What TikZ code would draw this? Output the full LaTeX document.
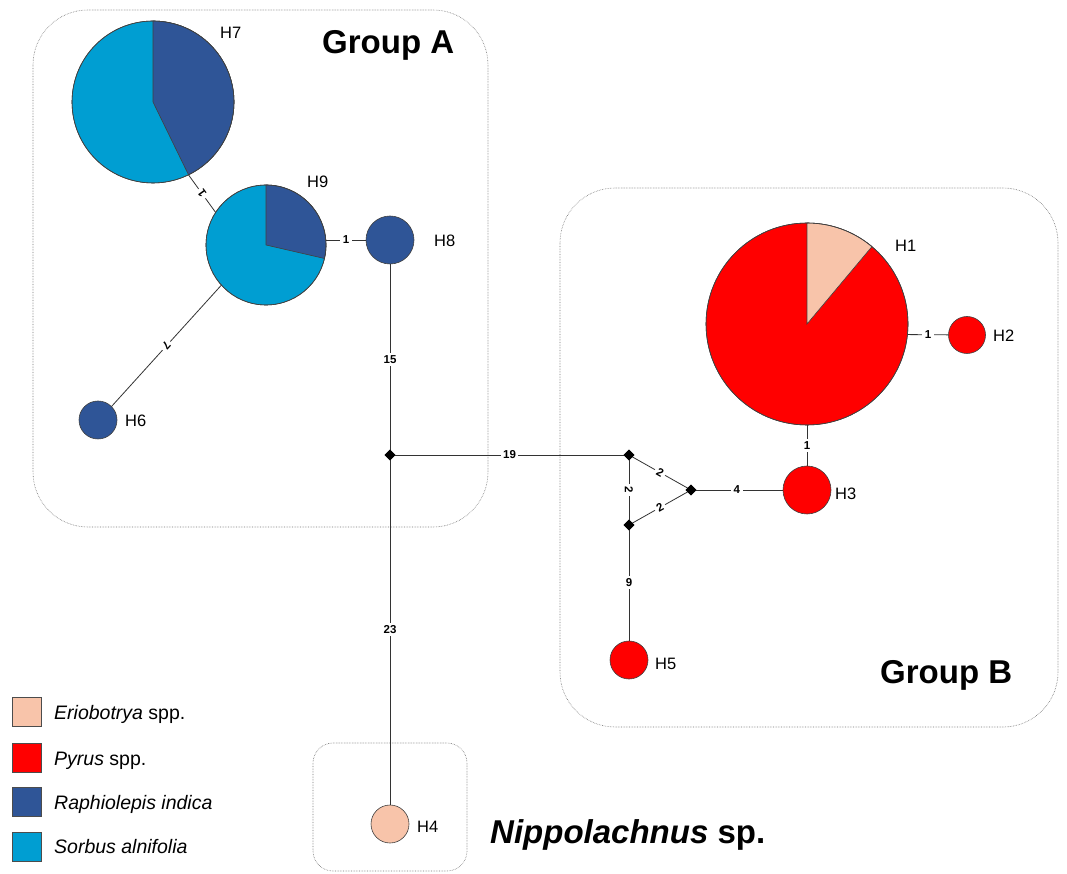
\documentclass[tikz,border=0pt]{standalone}
\usepackage{fontspec}
\setmainfont{Liberation Sans}
\usetikzlibrary{shapes.geometric}
\definecolor{dblue}{RGB}{47,85,151}
\definecolor{lblue}{RGB}{0,158,210}
\definecolor{pred}{RGB}{255,0,0}
\definecolor{ppink}{RGB}{248,196,170}
\tikzset{
  hap/.style={circle, draw=black!75, line width=0.6pt, inner sep=0pt},
  pieline/.style={draw=black!75, line width=0.6pt},
  med/.style={diamond, fill=black, inner sep=0pt, minimum width=11pt, minimum height=11pt},
  edge/.style={draw=black!80, line width=0.8pt},
  elab/.style={fill=white, inner sep=2.5pt, font=\fontsize{11.5}{13}\selectfont\bfseries},
  hlab/.style={anchor=base west, inner sep=0pt, font=\fontsize{16.5}{19}\selectfont},
  grpbox/.style={draw=black!55, densely dotted, line width=0.6pt},
  grplab/.style={anchor=base west, inner sep=0pt, font=\fontsize{33}{39}\selectfont\bfseries},
  legbox/.style={draw=black!70, line width=0.8pt, minimum size=29pt, inner sep=0pt},
  legtext/.style={anchor=base west, inner sep=0pt, font=\fontsize{19.5}{23}\selectfont}
}
\begin{document}
\begin{tikzpicture}[x=1pt, y=1pt]
\useasboundingbox (0,0) rectangle (1067,873);
% group boxes
\draw[grpbox, rounded corners=55pt] (33,863) rectangle (488,346);
\draw[grpbox, rounded corners=55pt] (560,685) rectangle (1058,146);
\draw[grpbox, rounded corners=20pt] (313,130) rectangle (467,2);
% haplotypes
\node[hap, fill=lblue, minimum size=162pt] (H7) at (153,771) {};
\filldraw[pieline, fill=dblue] (H7.center) -- ++(90:81pt) arc[start angle=90, end angle=-64, radius=81pt] -- cycle;
\node[hap, minimum size=162pt] at (153,771) {};
\node[hap, fill=lblue, minimum size=120pt] (H9) at (266,628) {};
\filldraw[pieline, fill=dblue] (H9.center) -- ++(90:60pt) arc[start angle=90, end angle=-13, radius=60pt] -- cycle;
\node[hap, minimum size=120pt] at (266,628) {};
\node[hap, fill=dblue, minimum size=48pt] (H8) at (390,633) {};
\node[hap, fill=dblue, minimum size=38pt] (H6) at (98,453) {};
\node[hap, fill=pred, minimum size=202pt] (H1) at (807,549) {};
\filldraw[pieline, fill=ppink] (H1.center) -- ++(90:101pt) arc[start angle=90, end angle=50, radius=101pt] -- cycle;
\node[hap, minimum size=202pt] at (807,549) {};
\node[hap, fill=pred, minimum size=37pt] (H2) at (967,538) {};
\node[hap, fill=pred, minimum size=48pt] (H3) at (807,383) {};
\node[hap, fill=pred, minimum size=38pt] (H5) at (629,213) {};
\node[hap, fill=ppink, minimum size=38pt] (H4) at (390,49) {};
% median vectors
\node[med] (J1) at (390,418) {};
\node[med] (J2) at (629,418) {};
\node[med] (J3) at (691,383) {};
\node[med] (J4) at (629,348) {};
% edges
\draw[edge] (H7.-64) -- node[elab, rotate=126] {1} (H9.147);
\draw[edge] (H9.east |- H8.west) -- node[elab] {1} (H8.west);
\draw[edge] (H9.222) -- node[elab, rotate=228] {7} (H6.45);
\draw[edge] (H8) -- node[elab] {15} (J1.center);
\draw[edge] (J1.center) -- node[elab] {23} (H4);
\draw[edge] (J1.center) -- node[elab] {19} (J2.center);
\draw[edge] (J2.center) -- node[elab, sloped] {2} (J3.center);
\draw[edge] (J4.center) -- node[elab, sloped] {2} (J3.center);
\draw[edge] (J2.center) -- node[elab, rotate=-90] {2} (J4.center);
\draw[edge] (J3.center) -- node[elab] {4} (H3);
\draw[edge] (J4.center) -- node[elab] {9} (H5);
\draw[edge] (H1) -- node[elab] {1} (H3);
\draw[edge] (H1.-6) -- node[elab] {1} (H2);
% redraw medians on top
\node[med] at (390,418) {};
\node[med] at (629,418) {};
\node[med] at (691,383) {};
\node[med] at (629,348) {};
% haplotype labels
\node[hlab] (tH7) at (220,834) {H7};
\node[hlab] (tH9) at (307,685) {H9};
\node[hlab] (tH8) at (434,626) {H8};
\node[hlab] (tH6) at (125,446) {H6};
\node[hlab] (tH1) at (895,621) {H1};
\node[hlab] (tH2) at (993,531) {H2};
\node[hlab] (tH3) at (835,373) {H3};
\node[hlab] (tH5) at (655,204) {H5};
\node[hlab] (tH4) at (417,41) {H4};
% group labels
\node[grplab] (gA) at (322,819) {Group A};
\node[grplab] (gB) at (880,190) {Group B};
\node[grplab] (gN) at (490,30) {\textit{Nippolachnus} sp.};
% legend
\node[legbox, fill=ppink] (L1) at (27,161.5) {};
\node[legbox, fill=pred] (L2) at (27,115.5) {};
\node[legbox, fill=dblue] (L3) at (27,71) {};
\node[legbox, fill=lblue] (L4) at (27,26) {};
\node[legtext] (T1) at (54,154) {\textit{Eriobotrya} spp.};
\node[legtext] (T2) at (54,108) {\textit{Pyrus} spp.};
\node[legtext] (T3) at (54,64) {\textit{Raphiolepis indica}};
\node[legtext] (T4) at (54,20) {\textit{Sorbus alnifolia}};
\end{tikzpicture}
\end{document}
